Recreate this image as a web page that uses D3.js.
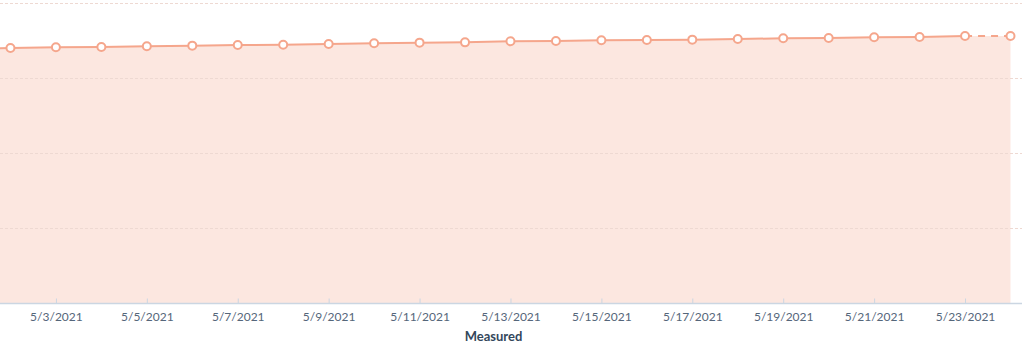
<!DOCTYPE html>
<html>
<head>
<meta charset="utf-8">
<script src="https://cdn.jsdelivr.net/npm/d3@7"></script>
<style>
  body { margin: 0; background: #fff; }
  svg { display: block; font-family: Lato, "Open Sans", sans-serif; }
</style>
</head>
<body>
<div id="chart"></div>
<script>
/* DATA */
const dates = ["2021-05-01","2021-05-02","2021-05-03","2021-05-04","2021-05-05","2021-05-06",
  "2021-05-07","2021-05-08","2021-05-09","2021-05-10","2021-05-11","2021-05-12","2021-05-13",
  "2021-05-14","2021-05-15","2021-05-16","2021-05-17","2021-05-18","2021-05-19","2021-05-20",
  "2021-05-21","2021-05-22","2021-05-23","2021-05-24"];
const measured = [17000,17030,17080,17100,17150,17190,17230,17250,17300,17350,17390,17410,17480,
  17500,17550,17570,17590,17630,17680,17700,17750,17770,17830,17830];
const yTicks = [0, 5000, 10000, 15000, 20000];
const xTickDates = ["2021-05-03","2021-05-05","2021-05-07","2021-05-09","2021-05-11","2021-05-13",
  "2021-05-15","2021-05-17","2021-05-19","2021-05-21","2021-05-23"];
const xTitle = "Measured";

/* CONSTANTS */
const width = 1024, height = 361;
const parse = d3.utcParse("%Y-%m-%d");
const fmt = d3.utcFormat("%-m/%-d/%Y");
const lineColor = "#f5a68c", areaColor = "#fce4dd";

const data = dates.map((d, i) => ({ date: parse(d), value: measured[i] }));

const xScale = d3.scaleUtc()
  .domain(d3.extent(data, d => d.date))
  .range([-35, 1010.5]);
const yScale = d3.scaleLinear()
  .domain([0, 20000])
  .range([303.5, 3.5]);

const svg = d3.select("#chart").append("svg")
  .attr("width", width)
  .attr("height", height);

// gridlines
svg.append("g")
  .selectAll("line")
  .data(yTicks.slice(1))
  .join("line")
  .attr("x1", 0).attr("x2", 1022)
  .attr("y1", d => yScale(d)).attr("y2", d => yScale(d))
  .attr("stroke", "#dfe3eb")
  .attr("stroke-width", 1)
  .attr("stroke-dasharray", "3,2");

// area
const area = d3.area()
  .x(d => xScale(d.date))
  .y0(yScale(0))
  .y1(d => yScale(d.value));
svg.append("path")
  .datum(data)
  .attr("d", area)
  .attr("fill", areaColor)
  .attr("fill-opacity", 0.9);

// gridlines again over the area, faint
svg.append("g")
  .selectAll("line")
  .data(yTicks.slice(1))
  .join("line")
  .attr("x1", 0).attr("x2", 1022)
  .attr("y1", d => yScale(d)).attr("y2", d => yScale(d))
  .attr("stroke", "#eed9d2")
  .attr("stroke-width", 1)
  .attr("stroke-dasharray", "3,2");

// line: solid up to second-to-last, dashed last segment
const line = d3.line()
  .x(d => xScale(d.date))
  .y(d => yScale(d.value));
svg.append("path")
  .datum(data.slice(0, -1))
  .attr("d", line)
  .attr("fill", "none")
  .attr("stroke", lineColor)
  .attr("stroke-width", 2);
svg.append("path")
  .datum(data.slice(-2))
  .attr("d", line)
  .attr("fill", "none")
  .attr("stroke", lineColor)
  .attr("stroke-width", 2)
  .attr("stroke-dasharray", "7,6");

// x axis
const xAxis = d3.axisBottom(xScale)
  .tickValues(xTickDates.map(parse))
  .tickFormat(fmt)
  .tickSizeInner(-5)
  .tickSizeOuter(0)
  .tickPadding(9);
const xAxisGroup = svg.append("g")
  .attr("transform", `translate(0,${yScale(0)})`)
  .call(xAxis);
xAxisGroup.select(".domain").remove();
xAxisGroup.append("line")
  .attr("x1", 0).attr("x2", 1022)
  .attr("stroke", "#cbd6e2")
  .attr("stroke-width", 1.5);
xAxisGroup.selectAll(".tick line").attr("stroke", "#cbd6e2");
xAxisGroup.selectAll(".tick text")
  .attr("fill", "#55667a")
  .attr("font-size", 12)
  .attr("font-family", "Lato, sans-serif");

svg.append("text")
  .attr("x", (-35 + 1022) / 2)
  .attr("y", 341)
  .attr("text-anchor", "middle")
  .attr("fill", "#33475b")
  .attr("font-size", 13)
  .attr("font-weight", "bold")
  .text(xTitle);

// points
svg.append("g")
  .selectAll("circle")
  .data(data)
  .join("circle")
  .attr("cx", d => xScale(d.date))
  .attr("cy", d => yScale(d.value))
  .attr("r", 4)
  .attr("fill", "#fff")
  .attr("stroke", lineColor)
  .attr("stroke-width", 2);
</script>
</body>
</html>
